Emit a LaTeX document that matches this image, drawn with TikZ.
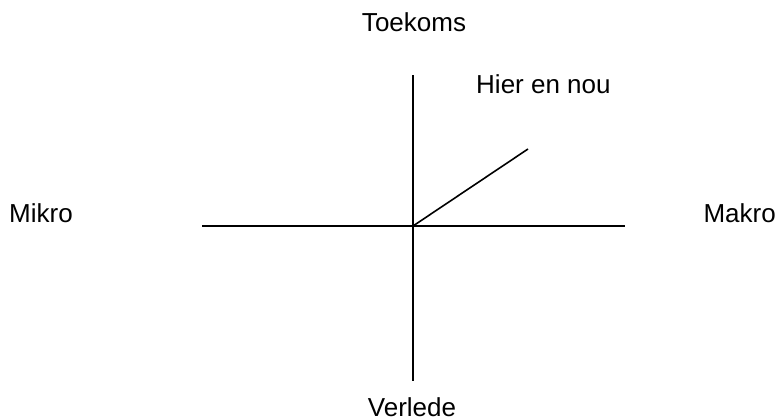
\documentclass[tikz,border=0pt]{standalone}
\usepackage{fontspec}
\setmainfont{Liberation Sans}
\usetikzlibrary{positioning}

\begin{document}
\begin{tikzpicture}[
    x=1pt, y=-1pt,
    axis/.style={line width=1.6pt, draw=black},
    label/.style={inner sep=0pt, font=\fontsize{26}{30}\selectfont},
]
\useasboundingbox (0,0) rectangle (776,420);

% Axis points
\coordinate (origin) at (413,226);
\coordinate (top) at (413,75);
\coordinate (bottom) at (413,381);
\coordinate (left) at (202,226);
\coordinate (right) at (625,226);
\coordinate (now) at (528,149);

% Labels
\node[label, anchor=base] (future) at (414,32) {Toekoms};
\node[label, anchor=base west] (herenow) at (476,93) {Hier en nou};
\node[label, anchor=base west] (micro) at (9,222) {Mikro};
\node[label, anchor=base east] (macro) at (776,222) {Makro};
\node[label, anchor=base] (past) at (412,416) {Verlede};

% Axes
\draw[axis] (top) -- (bottom);
\draw[axis] (left) -- (right);
\draw[axis] (origin) -- (now);

\end{tikzpicture}
\end{document}
